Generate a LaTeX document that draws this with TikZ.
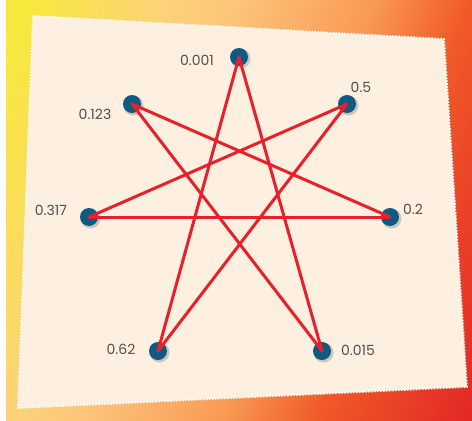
\documentclass[tikz,border=0pt]{standalone}
\usepackage{fontspec}
\setmainfont{Poppins}
\usetikzlibrary{shadings}
\definecolor{bgA}{HTML}{F8E83C}
\definecolor{bgB}{HTML}{FCD27A}
\definecolor{bgC}{HTML}{FDC47A}
\definecolor{bgD}{HTML}{F99A55}
\definecolor{bgE}{HTML}{F05A28}
\definecolor{bgF}{HTML}{E42A25}
\definecolor{paper}{HTML}{FDF0E0}
\definecolor{dotblue}{HTML}{0D5B82}
\definecolor{starred}{HTML}{E8202A}
\definecolor{labelgray}{HTML}{505050}
\pgfdeclarehorizontalshading{bgshade}{100bp}{color(0bp)=(bgA); color(20bp)=(bgA); color(35bp)=(bgB); color(42bp)=(bgC); color(56bp)=(bgD); color(66bp)=(bgE); color(81bp)=(bgF); color(100bp)=(bgF)}
\tikzset{
  vertex/.style={circle, fill=dotblue, minimum size=18pt, inner sep=0pt},
  vshadow/.style={fill=black, opacity=0.18},
  edge/.style={starred, line width=3pt, line cap=round},
  lbl/.style={text=labelgray, font=\fontsize{14}{15}\selectfont, inner sep=0pt}
}
\begin{document}
\begin{tikzpicture}[x=1pt, y=-1pt]
\useasboundingbox (0,0) rectangle (472,421);
\fill[white] (0,0) rectangle (472,421);
\shade[shading=bgshade, shading angle=-20] (6,0) rectangle (472,421);
% paper
\fill[paper] (33,16) -- (444,39) -- (467,387) -- (18,408) -- cycle;
\draw[white, line width=1.8pt, dash pattern=on 1.6pt off 1.4pt] (33,16) -- (444,39) -- (467,387) -- (18,408) -- cycle;
% shadows
\foreach \px/\py in {239/57,347/104,390/217,322/351,158/351,89/217,132/104}
  \fill[vshadow] (\px+1.5,\py+1.5) circle[radius=10pt];
% vertices
\node[vertex] (v0) at (239,57) {};
\node[vertex] (v1) at (347,104) {};
\node[vertex] (v2) at (390,217) {};
\node[vertex] (v3) at (322,351) {};
\node[vertex] (v4) at (158,351) {};
\node[vertex] (v5) at (89,217) {};
\node[vertex] (v6) at (132,104) {};
% star edges
\draw[edge] (v0.center) -- (v3.center);
\draw[edge] (v0.center) -- (v4.center);
\draw[edge] (v6.center) -- (v2.center);
\draw[edge] (v6.center) -- (v3.center);
\draw[edge] (v1.center) -- (v5.center);
\draw[edge] (v1.center) -- (v4.center);
\draw[edge] (v5.center) -- (v2.center);
% labels
\node[lbl] (l0) at (197,60) {0.001};
\node[lbl] (l1) at (361,87) {0.5};
\node[lbl] (l2) at (413,209) {0.2};
\node[lbl] (l3) at (358,350) {0.015};
\node[lbl] (l4) at (121,349) {0.62};
\node[lbl] (l5) at (51,210) {0.317};
\node[lbl] (l6) at (95,114) {0.123};
\end{tikzpicture}
\end{document}
